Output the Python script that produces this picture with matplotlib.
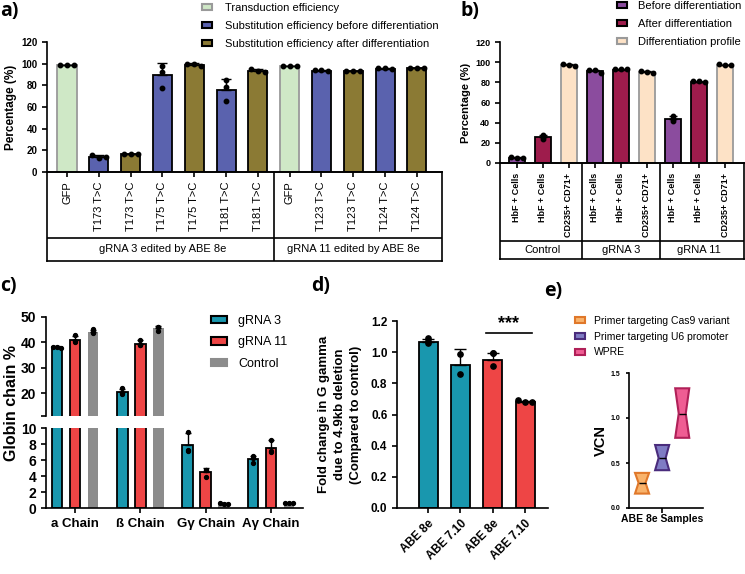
import numpy as np
import matplotlib
matplotlib.use('Agg')
import matplotlib.pyplot as plt
from matplotlib.patches import Patch

plt.rcParams['font.family'] = ['Liberation Sans', 'DejaVu Sans']
plt.rcParams['axes.linewidth'] = 1.2
plt.rcParams['xtick.major.width'] = 1.2
plt.rcParams['ytick.major.width'] = 1.2
plt.rcParams['xtick.major.size'] = 3.5
plt.rcParams['ytick.major.size'] = 3.5

W, H = 745, 574

# ---------------- panel a data
a_labels = ['GFP', 'T173 T>C', 'T173 T>C', 'T175 T>C', 'T175 T>C', 'T181 T>C', 'T181 T>C',
            'GFP', 'T123 T>C', 'T123 T>C', 'T124 T>C', 'T124 T>C']
a_kind = [0, 1, 2, 1, 2, 1, 2, 0, 1, 2, 1, 2]
a_mean = [98.5, 14.0, 16.5, 89.5, 99.0, 76.0, 93.5, 97.5, 93.5, 93.2, 95.5, 96.0]
a_err = [0.3, 2.0, 0.4, 11.5, 1.2, 9.5, 1.5, 0.3, 0.5, 0.4, 0.4, 0.3]
a_points = [[98.5, 98.5, 98.5], [15.5, 12.5, 14.0], [16.6, 16.6, 16.4],
            [98.0, 92.5, 77.5], [100.0, 100.0, 98.0], [85.0, 78.5, 66.0],
            [95.0, 93.5, 92.5], [97.5, 97.5, 97.5], [94.0, 94.0, 93.0],
            [93.5, 93.0, 93.0], [95.8, 95.8, 95.2], [96.2, 96.2, 96.0]]
a_series = ['Transduction efficiency', 'Substitution efficiency before differentiation',
            'Substitution efficiency after differentiation']
a_groups = ['gRNA 3 edited by ABE 8e', 'gRNA 11 edited by ABE 8e']
a_group_idx = [[0, 6], [7, 11]]

# ---------------- panel b data
b_labels = ['HbF + Cells', 'HbF + Cells', 'CD235+ CD71+'] * 3
b_kind = [0, 1, 2] * 3
b_mean = [5.0, 25.5, 97.0, 91.0, 92.5, 90.5, 44.0, 80.5, 97.0]
b_err = [0.8, 2.5, 1.0, 1.0, 0.3, 1.2, 2.5, 0.3, 0.6]
b_points = [[6.0, 5.2, 5.0], [28.0, 23.5, 26.0], [98.5, 97.0, 96.0],
            [92.0, 92.0, 89.5], [93.0, 93.0, 93.0], [91.5, 90.0, 89.5],
            [47.0, 42.0, 44.0], [81.0, 81.0, 80.5], [98.0, 97.5, 97.0]]
b_series = ['Before differentiation', 'After differentiation', 'Differentiation profile']
b_groups = ['Control', 'gRNA 3', 'gRNA 11']

# ---------------- panel c data
c_cats = ['a Chain', 'ß Chain', 'Gγ Chain', 'Aγ Chain']
c_series = ['gRNA 3', 'gRNA 11', 'Control']
c_mean = [[38.0, 20.5, 7.9, 6.1],
          [41.0, 39.5, 4.5, 7.5],
          [44.0, 45.5, 0.5, 0.6]]
c_err = [[0.4, 1.2, 1.5, 0.4],
         [1.7, 1.3, 0.5, 1.0],
         [0.8, 1.0, 0.1, 0.05]]
c_points = [[[38.2, 38.0, 37.6], [22.0, 20.0, 19.8], [9.5, 7.2, 7.1], [6.5, 6.3, 5.6]],
            [[43.0, 40.5, 40.0], [41.0, 39.0, 38.8], [4.8, 4.8, 3.9], [8.5, 7.1, 7.0]],
            [[45.2, 44.0, 43.8], [46.2, 46.2, 44.5], [0.6, 0.5, 0.5], [0.6, 0.6, 0.6]]]

# ---------------- panel d data
d_labels = ['ABE 8e', 'ABE 7.10', 'ABE 8e', 'ABE 7.10']
d_kind = [0, 0, 1, 1]
d_mean = [1.065, 0.92, 0.95, 0.68]
d_err = [0.02, 0.10, 0.045, 0.005]
d_points = [[1.09, 1.07, 1.06], [0.99, 0.86], [0.995, 0.995, 0.91], [0.69, 0.68, 0.68]]

# ---------------- panel e data
e_series = ['Primer targeting Cas9 variant', 'Primer targeting U6 promoter', 'WPRE']
e_q1 = [0.16, 0.42, 0.78]
e_med = [0.28, 0.555, 1.05]
e_q3 = [0.39, 0.70, 1.33]

# colours
a_face = ['#cfe8c6', '#5a62ae', '#8b7a34']
a_edge = ['#9a9a9a', 'black', 'black']
b_face = ['#8b4c9e', '#9e1c4c', '#fde2c6']
b_edge = ['black', 'black', '#9a9a9a']
c_face = ['#1997ae', '#ee4545', '#8c8c8c']
c_edge = ['black', 'black', '#8c8c8c']
e_face = ['#f9b36b', '#7f7cc4', '#ef5d93']
e_edge = ['#e0782a', '#4a2c7c', '#b02058']


def px_axes(fig, left, top, right, bottom):
    return fig.add_axes([left / W, 1 - bottom / H, (right - left) / W, (bottom - top) / H])


def spread(p, tol, width):
    p = np.asarray(p)
    if p.max() - p.min() < tol:
        n = len(p)
        return np.linspace(-width * 0.36, width * 0.36, n) if n > 1 else np.zeros(1)
    return np.zeros(len(p))


def draw_bars(ax, x, means, errs, pts, faces, edges, width, tol, cap=3.5, lw=1.3, ms=3.2):
    ax.bar(x, means, width, color=faces, edgecolor=edges, linewidth=lw, zorder=2)
    ax.errorbar(x, means, yerr=[np.zeros(len(x)), errs], fmt='none', ecolor='black',
                elinewidth=1.0, capsize=cap, capthick=1.0, zorder=3)
    for xi, p in zip(x, pts):
        ax.plot(xi + spread(p, tol, width), p, 'o', color='black', ms=ms, zorder=4, clip_on=True)


def style(ax):
    for s in ['top', 'right']:
        ax.spines[s].set_visible(False)
    ax.tick_params(direction='out')


fig = plt.figure(figsize=(W / 100, H / 100), dpi=100)

# ================= panel a
axa = px_axes(fig, 47, 42, 442, 172)
xa = np.arange(len(a_labels))
draw_bars(axa, xa, a_mean, a_err, a_points,
          [a_face[k] for k in a_kind], [a_edge[k] for k in a_kind], 0.6, 3.5)
axa.set_xlim(-0.63, 11.79)
axa.set_ylim(0, 120)
axa.set_yticks(range(0, 121, 20))
style(axa)
axa.tick_params(axis='y', labelsize=7)
for t in axa.get_yticklabels():
    t.set_fontweight('bold')
axa.set_xticks(xa)
axa.set_xticklabels(a_labels, rotation=90, fontsize=8)
axa.set_ylabel('Percentage (%)', fontsize=8.5, fontweight='bold', labelpad=3)
axa.legend(handles=[Patch(facecolor=a_face[i], edgecolor=a_edge[i], linewidth=1.5, label=a_series[i])
                    for i in range(3)],
           loc='upper left', bbox_to_anchor=(202 / W, 1 - 3 / H), bbox_transform=fig.transFigure,
           frameon=False, fontsize=8, handlelength=0.9, handleheight=0.45, handletextpad=1.2,
           labelspacing=0.72, borderpad=0, borderaxespad=0)

boxa = px_axes(fig, 47, 172, 442, 261)
boxa.set_xlim(axa.get_xlim())
boxa.set_ylim(0, 1)
boxa.set_xticks([])
boxa.set_yticks([])
boxa.patch.set_alpha(0)
boxa.axhline(0.26, color='black', lw=1.2)
boxa.axvline(6.5, color='black', lw=1.2)
for name, (i0, i1) in zip(a_groups, a_group_idx):
    boxa.text((i0 + i1) / 2, 0.13, name, ha='center', va='center', fontsize=8)

# ================= panel b
axb = px_axes(fig, 500, 42, 744, 163)
xb = np.arange(len(b_labels))
draw_bars(axb, xb, b_mean, b_err, b_points,
          [b_face[k] for k in b_kind], [b_edge[k] for k in b_kind], 0.6, 3.5, cap=3)
axb.set_xlim(-0.65, 8.73)
axb.set_ylim(0, 120)
axb.set_yticks(range(0, 121, 20))
style(axb)
axb.tick_params(axis='y', labelsize=6.5)
for t in axb.get_yticklabels():
    t.set_fontweight('bold')
axb.set_xticks(xb)
axb.set_xticklabels(b_labels, rotation=90, fontsize=6.5, fontweight='bold')
axb.set_ylabel('Percentage (%)', fontsize=8, fontweight='bold', labelpad=3)
axb.legend(handles=[Patch(facecolor=b_face[i], edgecolor=b_edge[i], linewidth=1.5, label=b_series[i])
                    for i in range(3)],
           loc='upper left', bbox_to_anchor=(617 / W, 1 - 1 / H), bbox_transform=fig.transFigure,
           frameon=False, fontsize=8, handlelength=0.9, handleheight=0.45, handletextpad=1.0,
           labelspacing=0.72, borderpad=0, borderaxespad=0)

boxb = px_axes(fig, 500, 163, 744, 259)
boxb.set_xlim(axb.get_xlim())
boxb.set_ylim(0, 1)
boxb.set_xticks([])
boxb.set_yticks([])
boxb.patch.set_alpha(0)
boxb.axhline(0.19, color='black', lw=1.2)
for g in range(len(b_groups)):
    if g > 0:
        boxb.axvline(3 * g - 0.5, color='black', lw=1.2)
    boxb.text(3 * g + 1, 0.095, b_groups[g], ha='center', va='center', fontsize=8)

# ================= panel c (broken axis)
axc_top = px_axes(fig, 46, 317, 303, 416)
axc_bot = px_axes(fig, 46, 428, 303, 508)
xc = np.arange(len(c_cats))
offs = [-0.276, 0.0, 0.276]
for ax in (axc_top, axc_bot):
    for s in range(3):
        draw_bars(ax, xc + offs[s], c_mean[s], c_err[s], c_points[s],
                  c_face[s], c_edge[s] if s < 2 else 'none', 0.165, 0.25 if ax is axc_bot else 1.2,
                  cap=2.5, lw=1.3, ms=2.8)
    ax.set_xlim(-0.444, 3.49)
    style(ax)
    ax.tick_params(labelsize=10)
    for t in ax.get_yticklabels():
        t.set_fontweight('bold')
axc_top.set_ylim(11, 50)
axc_top.set_yticks([11, 20, 30, 40, 50])
axc_top.set_yticklabels(['', '20', '30', '40', '50'])
axc_top.spines['bottom'].set_visible(False)
axc_top.set_xticks([])
axc_bot.set_ylim(0, 10)
axc_bot.set_yticks(range(0, 11, 2))
axc_bot.set_xticks(xc)
axc_bot.set_xticklabels(c_cats, fontsize=9.5, fontweight='bold')
for t in axc_bot.get_yticklabels():
    t.set_fontweight('bold')
fig.text(12 / W, 1 - 403 / H, 'Globin chain %', rotation=90, ha='center', va='center',
         fontsize=11.5, fontweight='bold')
axc_top.legend(handles=[Patch(facecolor=c_face[i], edgecolor=c_edge[i], linewidth=1.5, label=c_series[i])
                        for i in range(3)],
               loc='upper left', bbox_to_anchor=(211 / W, 1 - 315 / H), bbox_transform=fig.transFigure,
               frameon=False, fontsize=9, handlelength=1.3, handleheight=0.5, handletextpad=0.9,
               labelspacing=0.75, borderpad=0, borderaxespad=0)

# ================= panel d
axd = px_axes(fig, 397, 321, 548, 508)
xd = np.arange(len(d_labels))
draw_bars(axd, xd, d_mean, d_err, d_points, [c_face[k] for k in d_kind], 'black', 0.59, 0.03,
          cap=4, ms=3.8)
axd.set_xlim(-0.96, 3.71)
axd.set_ylim(0, 1.2)
axd.set_yticks(np.arange(0, 1.21, 0.2))
axd.set_yticklabels(['0.0', '0.2', '0.4', '0.6', '0.8', '1.0', '1.2'])
style(axd)
axd.tick_params(axis='y', labelsize=8.5)
for t in axd.get_yticklabels():
    t.set_fontweight('bold')
axd.set_xticks(xd)
axd.set_xticklabels(d_labels, rotation=45, ha='right', va='top', rotation_mode='anchor',
                    fontsize=8.5, fontweight='bold')
axd.set_ylabel('Fold change in G gamma\ndue to 4.9kb deletion\n(Compared to control)',
               fontsize=9.5, fontweight='bold', linespacing=1.45, labelpad=6)
axd.plot([1.8, 3.2], [1.123, 1.123], color='black', lw=1.2, clip_on=False)
axd.text(2.5, 1.13, '***', ha='center', va='bottom', fontsize=13, fontweight='bold')

# ================= panel e
axe = px_axes(fig, 629, 373, 703, 508)
stats = [dict(med=e_med[i], q1=e_q1[i], q3=e_q3[i], cilo=e_q1[i], cihi=e_q3[i],
              whislo=e_q1[i], whishi=e_q3[i], fliers=[]) for i in range(3)]
epos = [0.7, 1.0, 1.3]
bp = axe.bxp(stats, positions=epos, widths=0.21, shownotches=True, showcaps=False,
             showfliers=False, patch_artist=True, manage_ticks=False,
             medianprops=dict(color='black', lw=1.0))
for i, box in enumerate(bp['boxes']):
    box.set_facecolor(e_face[i])
    box.set_edgecolor(e_edge[i])
    box.set_linewidth(1.5)
axe.set_xlim(0.505, 1.61)
axe.set_ylim(0, 1.5)
axe.set_yticks([0, 0.5, 1.0, 1.5])
axe.set_yticklabels(['0.0', '0.5', '1.0', '1.5'])
style(axe)
axe.tick_params(axis='y', labelsize=5, length=2.5)
for t in axe.get_yticklabels():
    t.set_fontweight('bold')
axe.set_xticks([1.0])
axe.set_xticklabels(['ABE 8e Samples'], fontsize=7.5, fontweight='bold')
axe.tick_params(axis='x', pad=1)
axe.set_ylabel('VCN', fontsize=10.5, fontweight='bold', labelpad=2)
axe.legend(handles=[Patch(facecolor=e_face[i], edgecolor=e_edge[i], linewidth=1.5, label=e_series[i])
                    for i in range(3)],
           loc='upper left', bbox_to_anchor=(575 / W, 1 - 316 / H), bbox_transform=fig.transFigure,
           frameon=False, fontsize=7.5, handlelength=1.0, handleheight=0.45, handletextpad=0.8,
           labelspacing=0.55, borderpad=0, borderaxespad=0)

# panel letters
for lab, x, y in [('a)', 0, 1), ('b)', 460, 1), ('c)', 0, 276), ('d)', 311, 276), ('e)', 544, 281)]:
    fig.text(x / W, 1 - y / H, lab, ha='left', va='top', fontsize=14, fontweight='bold',
             family=['Open Sans', 'DejaVu Sans'])

fig.savefig('out.png', dpi=100)
